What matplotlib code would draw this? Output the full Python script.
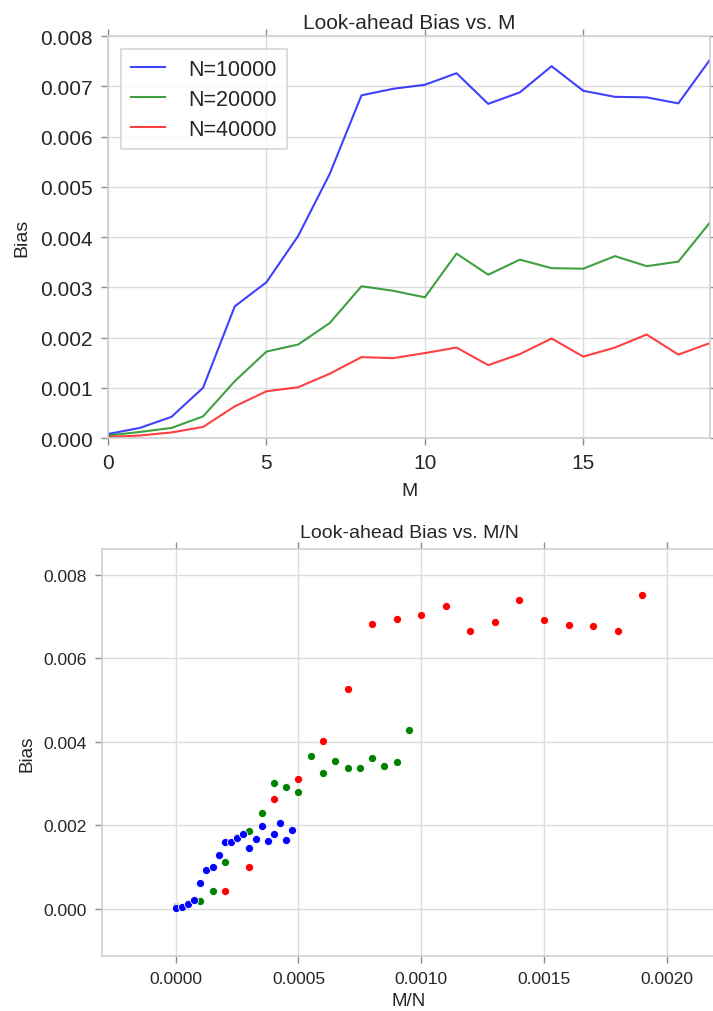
import numpy as np
import matplotlib
matplotlib.use("Agg")
import matplotlib.pyplot as plt

plt.rcParams['font.family'] = ['Liberation Sans', 'DejaVu Sans']
plt.rcParams['text.color'] = '#262626'
plt.rcParams['axes.labelcolor'] = '#262626'
plt.rcParams['xtick.color'] = '#262626'
plt.rcParams['ytick.color'] = '#262626'

# --- data ---
M = list(range(20))
N_values = [10000, 20000, 40000]

bias_n10000 = [0.00008, 0.00020, 0.00042, 0.00100, 0.00262, 0.00310, 0.00402, 0.00526,
               0.00682, 0.00695, 0.00703, 0.00726, 0.00665, 0.00688, 0.00740, 0.00691,
               0.00679, 0.00678, 0.00666, 0.00753]
bias_n20000 = [0.00005, 0.00012, 0.00020, 0.00043, 0.00113, 0.00172, 0.00186, 0.00229,
               0.00302, 0.00293, 0.00280, 0.00367, 0.00325, 0.00355, 0.00338, 0.00337,
               0.00362, 0.00342, 0.00351, 0.00429]
bias_n40000 = [0.00002, 0.00005, 0.00011, 0.00022, 0.00063, 0.00093, 0.00101, 0.00128,
               0.00161, 0.00159, 0.00169, 0.00180, 0.00145, 0.00167, 0.00198, 0.00162,
               0.00180, 0.00206, 0.00166, 0.00189]

biases = [bias_n10000, bias_n20000, bias_n40000]
line_colors = ['b', 'g', 'r']
dot_colors = ['r', 'g', 'b']

grid_c = '#dcdcdc'
spine_c = '#cfcfcf'
tick_c = '#8c8c8c'

fig = plt.figure(figsize=(7.13, 10.12), dpi=100)

# 上图: Bias vs M
ax1 = fig.add_axes([0.1515, 0.5662, 0.8443, 0.3972])
for n, b, c in zip(N_values, biases, line_colors):
    ax1.plot(M, b, color=c, lw=1.5, alpha=0.75, label=f'N={n}')
ax1.set_xlim(0, 19)
ax1.set_ylim(0, 0.008)
ax1.set_xticks([0, 5, 10, 15])
ax1.set_yticks(np.arange(0, 0.0081, 0.001))
ax1.yaxis.set_major_formatter(matplotlib.ticker.FormatStrFormatter('%.3f'))
ax1.tick_params(labelsize=15, direction='out', length=5, width=1, color=tick_c,
                top=True, right=True, pad=6)
ax1.set_title('Look-ahead Bias vs. M', fontsize=15, pad=6)
ax1.set_xlabel('M', fontsize=14, labelpad=7)
ax1.set_ylabel('Bias', fontsize=14, labelpad=7)
leg = ax1.legend(loc='upper left', fontsize=15.5, frameon=True, fancybox=False,
                 handlelength=1.6, handletextpad=1.1, labelspacing=0.42,
                 borderpad=0.45, borderaxespad=0.6)
leg.get_frame().set_edgecolor('#cccccc')
leg.get_frame().set_linewidth(1.2)

# 下图: Bias vs M/N
ax2 = fig.add_axes([0.1431, 0.0543, 0.861, 0.4022])
for n, b, c in zip(N_values, biases, dot_colors):
    ratio = [m / n for m in M]
    ax2.scatter(ratio, b, color=c, s=34, edgecolors='white', linewidths=0.6, zorder=3)
ax2.set_xlim(-0.0003, 0.0022)
ax2.set_ylim(-0.00113, 0.00862)
ax2.set_xticks(np.arange(0, 0.00201, 0.0005))
ax2.set_yticks(np.arange(0, 0.0081, 0.002))
ax2.xaxis.set_major_formatter(matplotlib.ticker.FormatStrFormatter('%.4f'))
ax2.yaxis.set_major_formatter(matplotlib.ticker.FormatStrFormatter('%.3f'))
ax2.tick_params(labelsize=12.5, direction='out', length=5, width=1, color=tick_c,
                top=True, right=True, pad=6)
ax2.set_title('Look-ahead Bias vs. M/N', fontsize=14, pad=9)
ax2.set_xlabel('M/N', fontsize=13.5, labelpad=4)
ax2.set_ylabel('Bias', fontsize=13.5, labelpad=6)

for ax in (ax1, ax2):
    ax.set_facecolor('white')
    ax.grid(True, color=grid_c, lw=1.0)
    ax.set_axisbelow(True)
    for s in ax.spines.values():
        s.set_color(spine_c)
        s.set_linewidth(1.2)

plt.savefig('out.png', dpi=100, facecolor='white')
